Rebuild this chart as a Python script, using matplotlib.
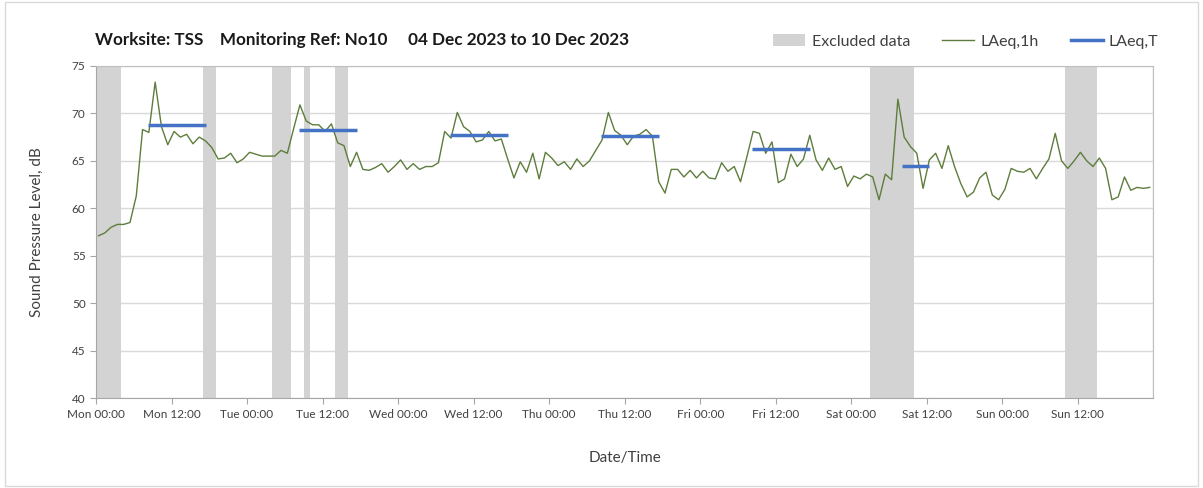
import numpy as np
import matplotlib
matplotlib.use("Agg")
import matplotlib.pyplot as plt
from matplotlib.patches import Patch, Rectangle
from matplotlib.lines import Line2D

plt.rcParams['font.family'] = ['Lato', 'DejaVu Sans']

# hourly LAeq,1h values, Mon 00:00 .. Sun 23:00
laeq_1h = [
    57.1, 57.4, 58.0, 58.3, 58.3, 58.5, 61.3, 68.3, 68.0, 73.3,
    68.6, 66.7, 68.1, 67.5, 67.8, 66.8, 67.5, 67.1, 66.4, 65.2,
    65.3, 65.8, 64.8, 65.2, 65.9, 65.7, 65.5, 65.5, 65.5, 66.1,
    65.8, 68.4, 70.9, 69.2, 68.8, 68.8, 68.1, 68.9, 66.9, 66.6,
    64.4, 65.9, 64.1, 64.0, 64.3, 64.7, 63.8, 64.4, 65.1, 64.1,
    64.7, 64.1, 64.4, 64.4, 64.8, 68.1, 67.4, 70.1, 68.6, 68.1,
    67.0, 67.2, 68.1, 67.1, 67.3, 65.2, 63.2, 64.9, 63.8, 65.8,
    63.1, 65.9, 65.3, 64.5, 64.9, 64.1, 65.2, 64.4, 65.0, 66.1,
    67.2, 70.1, 68.2, 67.7, 66.7, 67.6, 67.8, 68.3, 67.6, 62.8,
    61.6, 64.1, 64.1, 63.3, 64.0, 63.2, 63.9, 63.2, 63.1, 64.8,
    63.9, 64.4, 62.8, 65.4, 68.1, 67.9, 65.8, 67.0, 62.7, 63.1,
    65.7, 64.4, 65.2, 67.7, 65.1, 64.0, 65.3, 64.1, 64.4, 62.3,
    63.4, 63.1, 63.6, 63.3, 60.9, 63.6, 63.0, 71.5, 67.5, 66.5,
    65.8, 62.1, 65.1, 65.8, 64.2, 66.6, 64.4, 62.6, 61.2, 61.7,
    63.2, 63.8, 61.4, 60.9, 62.0, 64.2, 63.9, 63.8, 64.2, 63.1,
    64.2, 65.2, 67.9, 65.0, 64.2, 65.0, 65.9, 65.0, 64.4, 65.3,
    64.2, 60.9, 61.2, 63.3, 61.9, 62.2, 62.1, 62.2,
]

# excluded periods, hours from Mon 00:00
excl_start = [0, 17, 28, 33, 38, 123, 154]
excl_end = [4, 19, 31, 34, 40, 130, 159]

# LAeq,T periods, hours from Mon 00:00
laeqT_start = [8.2, 32.2, 56.2, 80.2, 104.2, 128.0]
laeqT_end = [17.5, 41.5, 65.5, 89.5, 113.5, 132.3]
laeqT_val = [68.8, 68.3, 67.7, 67.6, 66.2, 64.5]

days = ["Mon", "Tue", "Wed", "Thu", "Fri", "Sat", "Sun"]
tick_labels = [f"{d} {h}" for d in days for h in ("00:00", "12:00")]

hours = np.arange(len(laeq_1h)) + 0.4

fig = plt.figure(figsize=(12.03, 4.88), dpi=100)
ax = fig.add_axes([0.0798, 0.1844, 0.879, 0.6804])

for s, e in zip(excl_start, excl_end):
    ax.axvspan(s, e, color="#d3d3d3", lw=0, zorder=1)

ax.plot(hours, laeq_1h, color="#5e7d3c", lw=1.0, zorder=3)
for s, e, v in zip(laeqT_start, laeqT_end, laeqT_val):
    ax.plot([s, e], [v, v], color="#4472c4", lw=2.5, solid_capstyle="butt", zorder=4)

ax.set_xlim(0, 168)
ax.set_ylim(40, 75)
ax.set_yticks(np.arange(40, 76, 5))
ax.set_xticks(np.arange(0, 168, 12))
ax.set_xticklabels(tick_labels)
ax.set_xticks(np.arange(0, 169, 24), minor=True)
ax.tick_params(axis="x", which="major", length=4, color="#a6a6a6", labelsize=8.5, labelcolor="#404040", pad=4)
ax.tick_params(axis="x", which="minor", length=0)
ax.tick_params(axis="y", length=4, color="#a6a6a6", labelsize=8.5, labelcolor="#404040")

ax.grid(axis="y", color="#d9d9d9", lw=1.0, zorder=0)
ax.grid(axis="x", which="minor", color="#d9d9d9", lw=1.0, zorder=0)
ax.set_axisbelow(True)
for side in ["left", "bottom"]:
    ax.spines[side].set_color("#a6a6a6")
for side in ["top", "right"]:
    ax.spines[side].set_color("#bfbfbf")

ax.set_ylabel("Sound Pressure Level, dB", fontsize=11, color="#404040", labelpad=20)
ax.set_xlabel("Date/Time", fontsize=11, color="#404040", labelpad=22)

fig.text(0.079, 0.918, "Worksite: TSS    Monitoring Ref: No10     04 Dec 2023 to 10 Dec 2023",
         fontsize=12.3, fontweight="bold", color="#1a1a1a", va="center")

handles = [Patch(facecolor="#d3d3d3", edgecolor="none"),
           Line2D([0], [0], color="#5e7d3c", lw=1.0),
           Line2D([0], [0], color="#4472c4", lw=2.5)]
fig.legend(handles, ["Excluded data", "LAeq,1h", "LAeq,T"], loc="center right",
           bbox_to_anchor=(0.975, 0.915), ncol=3, frameon=False, fontsize=11.5,
           handlelength=2.0, columnspacing=2.0, handletextpad=0.4,
           labelcolor="#404040")

fig.patches.append(Rectangle((0.004, 0.004), 0.992, 0.992, transform=fig.transFigure,
                             fill=False, edgecolor="#d9d9d9", lw=1.0))

fig.savefig("out.png", dpi=100)
